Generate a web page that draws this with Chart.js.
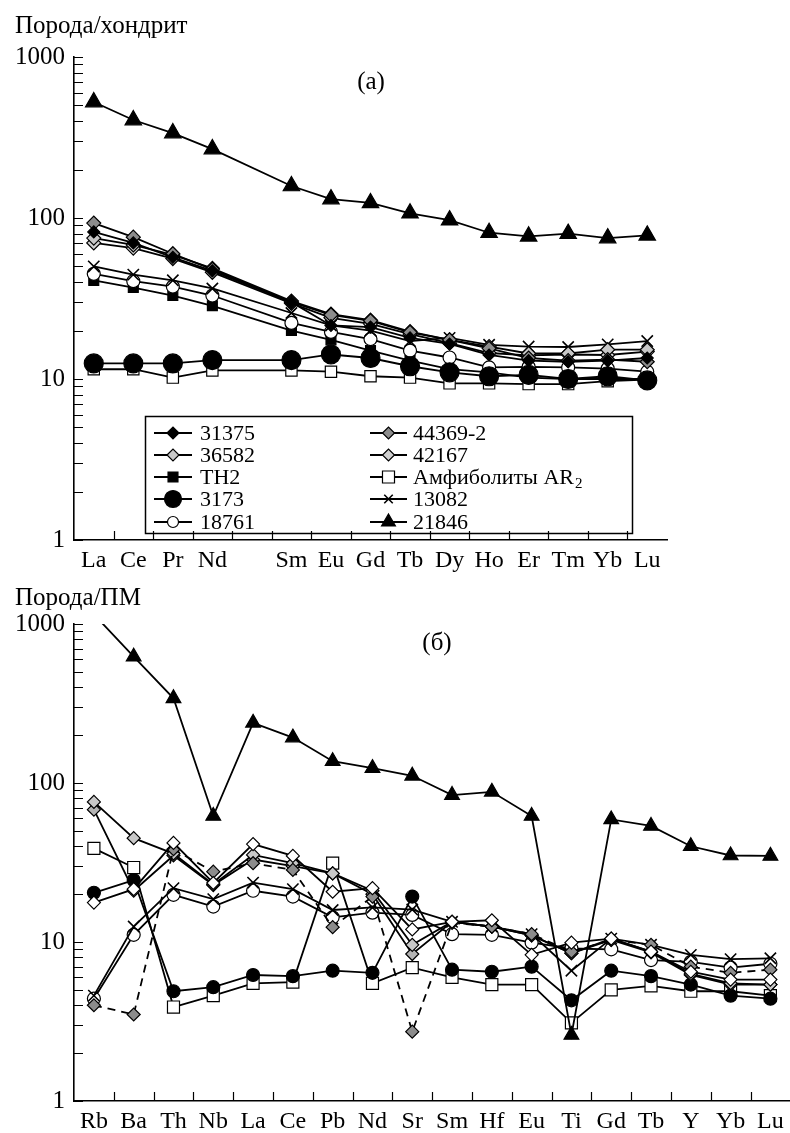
<!DOCTYPE html>
<html>
<head>
<meta charset="utf-8">
<script src="https://cdn.jsdelivr.net/npm/chart.js@4.4.1/dist/chart.umd.min.js"></script>
<style>
    html, body { margin: 0; padding: 0; background: #fff; overflow: hidden; width: 790px; height: 1133px; }
    #wrapA { position: absolute; left: 0; top: 0; width: 790px; height: 580px; }
    #wrapB { position: absolute; left: 0; top: 580px; width: 800px; height: 553px; }
</style>
</head>
<body>
<div id="wrapA"><canvas id="chartA" width="790" height="580"></canvas></div>
<div id="wrapB"><canvas id="chartB" width="800" height="553"></canvas></div>
<script>
// Tick labels
const reeLabels = ['La', 'Ce', 'Pr', 'Nd', '', 'Sm', 'Eu', 'Gd', 'Tb', 'Dy', 'Ho', 'Er', 'Tm', 'Yb', 'Lu'];
const spiderLabels = ['Rb', 'Ba', 'Th', 'Nb', 'La', 'Ce', 'Pb', 'Nd', 'Sr', 'Sm', 'Hf', 'Eu', 'Ti', 'Gd', 'Tb', 'Y', 'Yb', 'Lu'];
const yTicks = [1, 10, 100, 1000];

// (a) rock / chondrite (Pm slot left empty)
const ree31375 = [82, 70, 57, 47, null, 30, 21.5, 21, 18, 16.5, 14.1, 13, 12.8, 13, 13.5];
const ree36582 = [75, 68, 59, 48.7, null, 30.5, 25.3, 23.2, 19.7, 17.5, 15.9, 14.4, 14.4, 15.2, 15.2];
const reeTH2 = [41, 37, 33, 28.5, null, 20, 17.5, 15, 13, 11.5, 11, 10.2, 10, 10, 10];
const ree3173 = [12.5, 12.5, 12.5, 13.1, null, 13.1, 14.2, 13.5, 12, 11, 10.4, 10.6, 10, 10.4, 9.8];
const ree18761 = [45, 40.5, 37.5, 33, null, 22.3, 19.6, 17.7, 15, 13.6, 11.8, 11.9, 11.8, 11.6, 11.1];
const ree44369 = [93, 76, 60, 48, null, 30, 25, 23, 19.5, 17.5, 15.5, 13.5, 13, 13.2, 12.8];
const ree42167 = [70, 65, 56, 46, null, 29.5, 24, 22, 19, 16.7, 14.5, 14, 14.2, 14.1, 14.8];
const reeAmph = [11.5, 11.5, 10.2, 11.3, null, 11.3, 11.1, 10.4, 10.2, 9.4, 9.4, 9.3, 9.3, 9.7, 9.9];
const ree13082 = [50, 44.5, 41, 36.5, null, 25.7, 21.5, 20, 17.2, 18, 16.3, 15.9, 15.8, 16.4, 17.2];
const ree21846 = [525, 406, 337, 268, null, 158, 131, 124, 107, 97, 81, 77, 80, 75, 78];

// (б) rock / primitive mantle
const sp31375 = [68, 21, 35, 22.8, 33, 30, 27, 20, 8.4, 13.4, 12.5, 11, 8.5, 10.3, 8.6, 6.2, 5.4, 5.4];
const sp36582 = [17.7, 21.5, 42, 23.5, 41.3, 34.8, 20.7, 21.8, 12, 13.4, 13.7, 8.3, 9.9, 10.5, 8.7, 6.5, 5.8, 5.8];
const sp42167 = [76, 45, 36, 23, 35.3, 31.3, 27, 21, 9.6, 13.4, 12.5, 11, 8.5, 10.5, 8.7, 6.3, 5.5, 5.4];
const sp44369 = [4.0, 3.5, 38.3, 27.7, 31.3, 28.4, 12.4, 19.3, 2.73, 13.2, 12.5, 11.2, 8.7, 10.3, 9.6, 7.0, 6.4, 6.7];
const sp3173 = [20.4, 24.5, 4.9, 5.2, 6.2, 6.1, 6.6, 6.4, 19.3, 6.7, 6.5, 7.0, 4.3, 6.6, 6.1, 5.4, 4.6, 4.4];
const sp18761 = [4.4, 11.1, 19.8, 16.7, 21, 19.3, 14.3, 15.3, 14.8, 11.2, 11.1, 9.9, 9.1, 9.0, 7.7, 7.5, 6.9, 7.3];
const sp13082 = [4.6, 12.5, 21.8, 18.6, 23.6, 21.5, 15.9, 16.5, 16, 13.4, 12.5, 11.2, 6.6, 10.5, 9.6, 8.3, 7.8, 7.9];
const spAmph = [38.8, 29.4, 3.9, 4.6, 5.5, 5.6, 31.3, 5.5, 6.9, 6.0, 5.4, 5.4, 3.1, 5.0, 5.3, 4.9, 4.9, 4.6];
const sp21846 = [1150, 623, 341, 62, 239, 193, 137, 124, 111, 84, 88, 62, 2.6, 59, 53.7, 40, 35, 34.8];

const SERIF = '"Liberation Serif", "Times New Roman", serif';

// marker looks
const stylesA = {
    '31375': { shape: 'rectRot', r: 6, fill: '#000' },
    '36582': { shape: 'rectRot', r: 7, fill: '#c8c8c8' },
    'TH2': { shape: 'rect', r: 7, fill: '#000' },
    '3173': { shape: 'circle', r: 9.5, fill: '#000' },
    '18761': { shape: 'circle', r: 6.5, fill: '#fff' },
    '44369-2': { shape: 'rectRot', r: 7, fill: '#8c8c8c' },
    '42167': { shape: 'rectRot', r: 7, fill: '#cfcfcf' },
    'amph': { shape: 'rect', r: 8, fill: '#fff' },
    '13082': { shape: 'crossRot', r: 8, fill: '#000' },
    '21846': { shape: 'triangle', r: 9.5, fill: '#000' }
};
const stylesB = {
    '31375': { shape: 'rectRot', r: 6.5, fill: '#b4b4b4' },
    '36582': { shape: 'rectRot', r: 6.5, fill: '#fff' },
    '3173': { shape: 'circle', r: 6.5, fill: '#000' },
    '18761': { shape: 'circle', r: 6.5, fill: '#fff' },
    '44369-2': { shape: 'rectRot', r: 6.5, fill: '#8c8c8c', dash: [8, 6] },
    '42167': { shape: 'rectRot', r: 6.5, fill: '#c8c8c8' },
    'amph': { shape: 'rect', r: 8.5, fill: '#fff' },
    '13082': { shape: 'crossRot', r: 8, fill: '#000' },
    '21846': { shape: 'triangle', r: 8.5, fill: '#000' }
};

function series(label, data, st) {
    return {
        label: label,
        data: data,
        borderColor: '#000',
        borderWidth: 1.8,
        borderDash: st.dash || [],
        pointStyle: st.shape,
        pointRadius: st.r,
        pointBackgroundColor: st.fill,
        pointBorderColor: '#000',
        pointBorderWidth: st.shape === 'crossRot' ? 1.6 : 1.2,
        tension: 0,
        spanGaps: true
    };
}

// inward ticks + captions
const paperPlugin = {
    id: 'paper',
    afterDraw(chart, args, opts) {
        const ctx = chart.ctx;
        const xs = chart.scales.x;
        const ys = chart.scales.y;
        const area = chart.chartArea;
        ctx.save();
        ctx.strokeStyle = '#000';
        ctx.lineWidth = 1.2;
        ctx.beginPath();
        for (let d = 1; d < 1000; d *= 10) {
            for (let k = 1; k <= 10; k++) {
                const py = Math.round(ys.getPixelForValue(d * k)) + 0.5;
                ctx.moveTo(area.left, py);
                ctx.lineTo(area.left + 9, py);
            }
        }
        for (let i = 1; i < xs.ticks.length; i++) {
            const px = Math.round((xs.getPixelForValue(i - 1) + xs.getPixelForValue(i)) / 2) + 0.5;
            ctx.moveTo(px, area.bottom);
            ctx.lineTo(px, area.bottom - 9);
        }
        ctx.stroke();

        ctx.fillStyle = '#000';
        ctx.font = '25px ' + SERIF;
        ctx.textBaseline = 'middle';
        ctx.textAlign = 'left';
        ctx.fillText(opts.title, 15, opts.titleY);
        ctx.textAlign = 'center';
        ctx.fillText(opts.panel, opts.panelX, opts.panelY);
        ctx.restore();
    }
};

// two-column legend of panel (a)
const legendItems = [
    [['31375', '31375'], ['36582', '36582'], ['TH2', 'TH2'], ['3173', '3173'], ['18761', '18761']],
    [['44369-2', '44369-2'], ['42167', '42167'], ['amph', 'Амфиболиты AR'], ['13082', '13082'], ['21846', '21846']]
];
const legendSizes = { '31375': 6, '36582': 6, 'TH2': 7, '3173': 8.5, '18761': 5.5, '44369-2': 6, '42167': 6, 'amph': 8.5, '13082': 6, '21846': 8 };

const legendPlugin = {
    id: 'boxLegend',
    afterDatasetsDraw(chart) {
        const ctx = chart.ctx;
        const box = { x: 145, y: 416, w: 487, h: 117 };
        ctx.save();
        ctx.fillStyle = '#fff';
        ctx.fillRect(box.x, box.y, box.w, box.h);
        ctx.strokeStyle = '#000';
        ctx.lineWidth = 1.5;
        ctx.strokeRect(box.x + 0.5, box.y + 0.5, box.w, box.h);

        const cols = [{ x0: 154, x1: 192, tx: 200 }, { x0: 370, x1: 407, tx: 413 }];
        const rows = [433, 455, 477, 499, 522];
        ctx.font = '22px ' + SERIF;
        ctx.textBaseline = 'middle';
        ctx.textAlign = 'left';
        legendItems.forEach((col, c) => {
            col.forEach(([key, text], r) => {
                const st = stylesA[key];
                const y = rows[r];
                const cx = (cols[c].x0 + cols[c].x1) / 2;
                ctx.strokeStyle = '#000';
                ctx.lineWidth = 1.8;
                ctx.setLineDash([]);
                ctx.beginPath();
                ctx.moveTo(cols[c].x0, y);
                ctx.lineTo(cols[c].x1, y);
                ctx.stroke();
                ctx.fillStyle = st.fill;
                ctx.lineWidth = st.shape === 'crossRot' ? 1.6 : 1.2;
                Chart.helpers.drawPoint(ctx, { pointStyle: st.shape, radius: legendSizes[key], borderWidth: ctx.lineWidth, rotation: 0 }, cx, y);
                ctx.fillStyle = '#000';
                ctx.fillText(text, cols[c].tx, y + 1);
                if (key === 'amph') {
                    const w = ctx.measureText(text).width;
                    ctx.font = '15px ' + SERIF;
                    ctx.fillText('2', cols[c].tx + w + 1, y + 7);
                    ctx.font = '22px ' + SERIF;
                }
            });
        });
        ctx.restore();
    }
};

function axes(labels, xHeight, yWidth) {
    return {
        x: {
            type: 'category',
            labels: labels,
            offset: true,
            grid: { display: true, drawOnChartArea: false, drawTicks: false },
            border: { color: '#000', width: 1.6 },
            ticks: { color: '#000', font: { family: SERIF, size: 24 }, padding: 6, autoSkip: false, maxRotation: 0 },
            afterFit(scale) { scale.height = xHeight; }
        },
        y: {
            type: 'logarithmic',
            min: 1,
            max: 1000,
            grid: { display: true, drawOnChartArea: false, drawTicks: false },
            border: { color: '#000', width: 1.6 },
            ticks: { color: '#000', font: { family: SERIF, size: 25 }, padding: 9, callback: (v) => String(v) },
            afterBuildTicks(scale) { scale.ticks = yTicks.map(v => ({ value: v })); },
            afterFit(scale) { scale.width = yWidth; }
        }
    };
}

const commonOptions = {
    responsive: false,
    animation: false,
    events: [],
    plugins: { legend: { display: false }, tooltip: { enabled: false } }
};

// Panel (a)
new Chart(document.getElementById('chartA'), {
    type: 'line',
    data: {
        labels: reeLabels,
        datasets: [
            series('3173', ree3173, stylesA['3173']),
            series('21846', ree21846, stylesA['21846']),
            series('31375', ree31375, stylesA['31375']),
            series('44369-2', ree44369, stylesA['44369-2']),
            series('36582', ree36582, stylesA['36582']),
            series('42167', ree42167, stylesA['42167']),
            series('13082', ree13082, stylesA['13082']),
            series('18761', ree18761, stylesA['18761']),
            series('TH2', reeTH2, stylesA['TH2']),
            series('Амфиболиты AR2', reeAmph, stylesA['amph'])
        ]
    },
    options: {
        ...commonOptions,
        layout: { padding: { left: 0, top: 57, right: 123, bottom: 0 } },
        scales: axes(reeLabels, 40, 74),
        plugins: {
            ...commonOptions.plugins,
            paper: { title: 'Порода/хондрит', titleY: 26, panel: '(a)', panelX: 371, panelY: 82 }
        }
    },
    plugins: [paperPlugin, legendPlugin]
});

// Panel (б)
new Chart(document.getElementById('chartB'), {
    type: 'line',
    data: {
        labels: spiderLabels,
        datasets: [
            series('21846', sp21846, stylesB['21846']),
            series('36582', sp36582, stylesB['36582']),
            series('44369-2', sp44369, stylesB['44369-2']),
            series('42167', sp42167, stylesB['42167']),
            series('31375', sp31375, stylesB['31375']),
            series('13082', sp13082, stylesB['13082']),
            series('18761', sp18761, stylesB['18761']),
            series('3173', sp3173, stylesB['3173']),
            series('Амфиболиты AR2', spAmph, stylesB['amph'])
        ]
    },
    options: {
        ...commonOptions,
        layout: { padding: { left: 0, top: 44, right: 5, bottom: 0 } },
        scales: axes(spiderLabels, 32, 74),
        plugins: {
            ...commonOptions.plugins,
            paper: { title: 'Порода/ПМ', titleY: 18, panel: '(б)', panelX: 437, panelY: 63 }
        }
    },
    plugins: [paperPlugin]
});
</script>
</body>
</html>
